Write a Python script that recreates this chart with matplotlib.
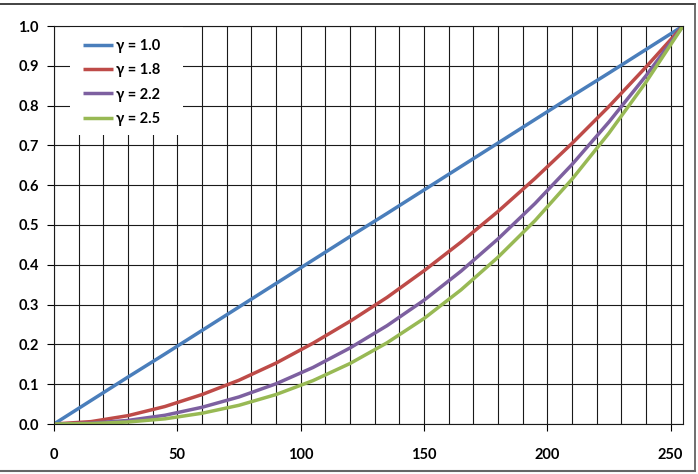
import matplotlib
matplotlib.use("Agg")
import matplotlib.pyplot as plt
from matplotlib.lines import Line2D
from matplotlib.patches import Rectangle

# ---- data (input code value vs. normalised output) ----
code = [0, 15, 30, 45, 60, 75, 90, 105, 120, 135, 150, 165, 180, 195, 210, 225, 240, 255]
g10 = [0.000, 0.059, 0.118, 0.176, 0.235, 0.294, 0.353, 0.412, 0.471, 0.529,
       0.588, 0.647, 0.706, 0.765, 0.824, 0.882, 0.941, 1.000]
g18 = [0.000, 0.006, 0.021, 0.044, 0.074, 0.110, 0.153, 0.203, 0.258, 0.318,
       0.385, 0.457, 0.534, 0.617, 0.705, 0.798, 0.897, 1.000]
g22 = [0.000, 0.002, 0.009, 0.022, 0.042, 0.068, 0.101, 0.142, 0.191, 0.247,
       0.311, 0.384, 0.465, 0.554, 0.652, 0.759, 0.875, 1.000]
g25 = [0.000, 0.001, 0.005, 0.013, 0.027, 0.047, 0.074, 0.109, 0.152, 0.204,
       0.265, 0.337, 0.419, 0.511, 0.615, 0.731, 0.859, 1.000]
labels = ['γ = 1.0', 'γ = 1.8', 'γ = 2.2', 'γ = 2.5']
colors = ['#4A7EBB', '#BE4B48', '#7D60A0', '#98B954']

plt.rcParams['font.family'] = ['Lato', 'DejaVu Sans']
plt.rcParams['font.weight'] = 'bold'

fig = plt.figure(figsize=(6.98, 4.74), dpi=100)
ax = fig.add_axes([54/698, 50/474, 629/698, 398/474])

for ys, lab, c in zip([g10, g18, g22, g25], labels, colors):
    ax.plot(code, ys, color=c, lw=2.5, label=lab, solid_capstyle='butt', zorder=3)

ax.set_xlim(0, 255)
ax.set_ylim(0, 1.0)
ax.set_xticks(range(0, 251, 50))
ax.set_xticks(range(0, 251, 10), minor=True)
ax.set_yticks([i/10 for i in range(11)])
ax.yaxis.set_major_formatter(matplotlib.ticker.FormatStrFormatter('%.1f'))
ax.grid(which='both', axis='x', color='#1a1a1a', lw=0.8)
ax.grid(which='major', axis='y', color='#1a1a1a', lw=0.8)
ax.tick_params(axis='x', which='major', length=5, width=0.8, pad=12, labelsize=10.5)
ax.tick_params(axis='x', which='minor', length=0)
ax.tick_params(axis='y', which='major', length=5, width=0.8, pad=6, labelsize=10.5)
for s in ax.spines.values():
    s.set_linewidth(0.8)
    s.set_color('#1a1a1a')
    s.set_zorder(6)
ax.set_axisbelow(True)

# white box behind the legend (hides grid, like the original)
ax.add_patch(Rectangle((16/629, 289/398), 113/629, 109/398, transform=ax.transAxes,
                       facecolor='white', edgecolor='none', zorder=2))

leg = ax.legend(loc='upper left', bbox_to_anchor=(0.025, 1.0), borderaxespad=0,
                frameon=False, handlelength=2.1, handletextpad=0.2, labelspacing=0.7,
                borderpad=0.9, fontsize=10.5)
leg.set_zorder(5)

# outer chart border
fig.add_artist(Line2D([0, 695/698], [1 - 4/474, 1 - 4/474], color='#222222', lw=1.2))
fig.add_artist(Line2D([695/698, 695/698], [1 - 4/474, 1 - 471/474], color='#555555', lw=1.2))
fig.add_artist(Line2D([0, 695/698], [1 - 471/474, 1 - 471/474], color='#666666', lw=1.5))

fig.savefig('out.png', dpi=100)
